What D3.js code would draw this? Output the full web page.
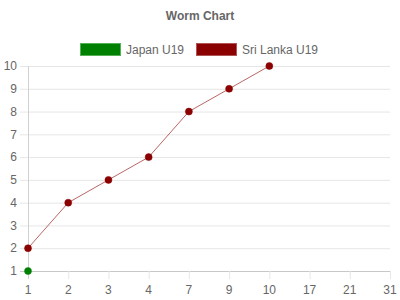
<!DOCTYPE html>
<html>
<head>
<meta charset="utf-8">
<style>
  body { margin: 0; background: #fff; }
  svg text { font-family: 'Liberation Sans', Arial, sans-serif; fill: #666; }
</style>
</head>
<body>
<div id="chart"></div>
<script src="https://cdn.jsdelivr.net/npm/d3@7"></script>
<script>
  var overs = ["1", "2", "3", "4", "7", "9", "10", "17", "21", "31"];
  var yTicks = [1, 2, 3, 4, 5, 6, 7, 8, 9, 10];
  var japanOvers = ["1"];
  var japanWickets = [1];
  var sriOvers = ["1", "2", "3", "4", "7", "9", "10"];
  var sriWickets = [2, 4, 5, 6, 8, 9, 10];
  var seriesNames = ["Japan U19", "Sri Lanka U19"];
  var seriesColors = ["#008000", "#8b0000"];

  var width = 400, height = 300;
  var plotLeft = 28, plotRight = 390, plotTop = 66, plotBottom = 271;

  var svg = d3.select("#chart").append("svg")
    .attr("width", width)
    .attr("height", height);

  var x = d3.scalePoint().domain(overs).range([plotLeft, plotRight]);
  var y = d3.scaleLinear().domain([1, 10]).range([plotBottom, plotTop]);

  // grid
  svg.append("g").selectAll("line")
    .data(yTicks)
    .enter().append("line")
      .attr("x1", plotLeft - 8).attr("x2", plotRight)
      .attr("y1", function(d) { return y(d) + 0.5; })
      .attr("y2", function(d) { return y(d) + 0.5; })
      .attr("stroke", function(d) { return d === 1 ? "#c8c8c8" : "#e6e6e6"; });

  svg.append("line")
    .attr("x1", plotLeft + 0.5).attr("x2", plotLeft + 0.5)
    .attr("y1", plotTop).attr("y2", plotBottom + 8)
    .attr("stroke", "#d0d0d0");

  svg.append("g").selectAll("line")
    .data(overs.slice(1))
    .enter().append("line")
      .attr("x1", function(d) { return x(d) + 0.5; })
      .attr("x2", function(d) { return x(d) + 0.5; })
      .attr("y1", plotBottom).attr("y2", plotBottom + 8)
      .attr("stroke", "#e6e6e6");

  // tick labels
  svg.append("g").selectAll("text")
    .data(yTicks)
    .enter().append("text")
      .attr("x", plotLeft - 11)
      .attr("y", function(d) { return y(d); })
      .attr("dy", "0.35em")
      .attr("text-anchor", "end")
      .style("font-size", "12px")
      .text(function(d) { return d; });

  svg.append("g").selectAll("text")
    .data(overs)
    .enter().append("text")
      .attr("x", function(d) { return x(d); })
      .attr("y", plotBottom + 23)
      .attr("text-anchor", "middle")
      .style("font-size", "12px")
      .text(function(d) { return d; });

  // title
  svg.append("text")
    .attr("x", 200).attr("y", 20)
    .attr("text-anchor", "middle")
    .style("font-size", "12px")
    .style("font-weight", "bold")
    .text("Worm Chart");

  // legend
  var legendX = [80, 196];
  seriesNames.forEach(function(name, i) {
    svg.append("rect")
      .attr("x", legendX[i] + 0.5).attr("y", 43.5)
      .attr("width", 40).attr("height", 12)
      .attr("fill", seriesColors[i])
      .attr("stroke", i === 0 ? "#55b055" : "#b05555")
      .attr("stroke-width", 1);
    svg.append("text")
      .attr("x", legendX[i] + 46).attr("y", 50)
      .attr("dy", "0.35em")
      .style("font-size", "12px")
      .text(name);
  });

  // series
  var line = d3.line()
    .x(function(d) { return x(d[0]); })
    .y(function(d) { return y(d[1]); });

  var sri = sriOvers.map(function(o, i) { return [o, sriWickets[i]]; });
  var jap = japanOvers.map(function(o, i) { return [o, japanWickets[i]]; });

  svg.append("path")
    .datum(sri)
    .attr("d", line)
    .attr("fill", "none")
    .attr("stroke", "rgba(139,0,0,0.6)")
    .attr("stroke-width", 1);

  [jap, sri].forEach(function(data, i) {
    svg.append("g").selectAll("circle")
      .data(data)
      .enter().append("circle")
        .attr("cx", function(d) { return x(d[0]); })
        .attr("cy", function(d) { return y(d[1]); })
        .attr("r", 3.5)
        .attr("fill", seriesColors[i])
        .attr("stroke", i === 0 ? "rgba(0,128,0,0.5)" : "rgba(139,0,0,0.5)")
        .attr("stroke-width", 1);
  });
</script>
</body>
</html>
